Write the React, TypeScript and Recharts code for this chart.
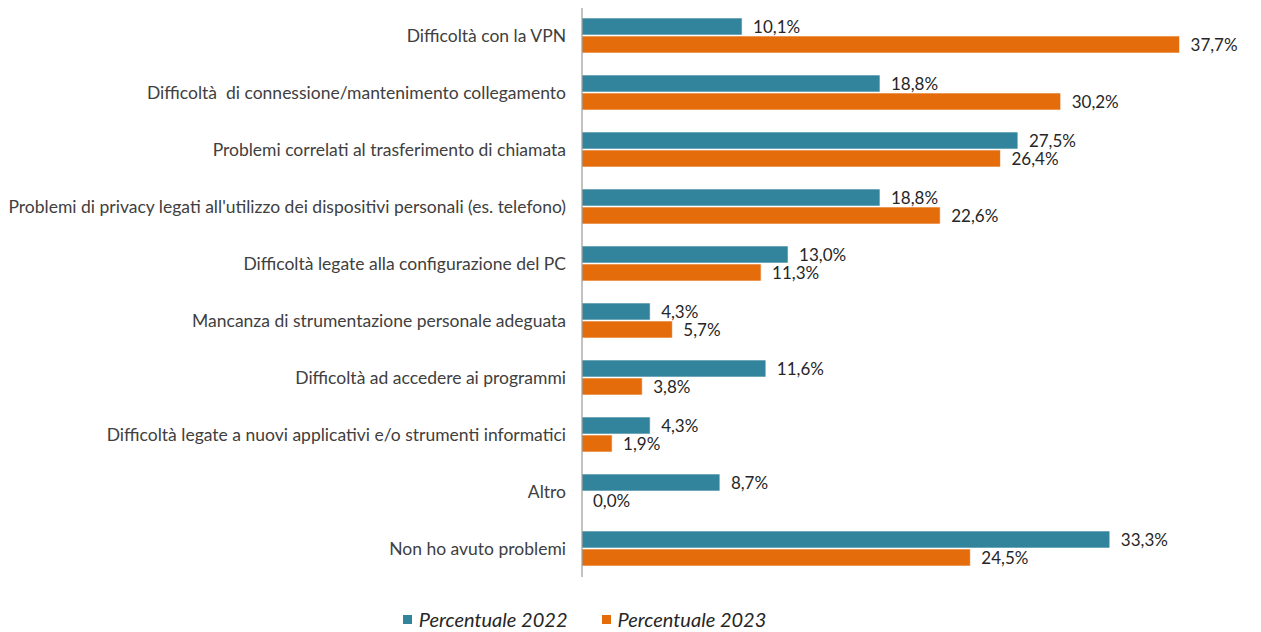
import { BarChart, Bar, XAxis, YAxis, Rectangle } from 'recharts';

const categories = [
  'Difficoltà con la VPN',
  'Difficoltà  di connessione/mantenimento collegamento',
  'Problemi correlati al trasferimento di chiamata',
  "Problemi di privacy legati all'utilizzo dei dispositivi personali (es. telefono)",
  'Difficoltà legate alla configurazione del PC',
  'Mancanza di strumentazione personale adeguata',
  'Difficoltà ad accedere ai programmi',
  'Difficoltà legate a nuovi applicativi e/o strumenti informatici',
  'Altro',
  'Non ho avuto problemi',
];

const values2022 = [10.1, 18.8, 27.5, 18.8, 13.0, 4.3, 11.6, 4.3, 8.7, 33.3];
const values2023 = [37.7, 30.2, 26.4, 22.6, 11.3, 5.7, 3.8, 1.9, 0.0, 24.5];

const seriesNames = ['Percentuale 2022', 'Percentuale 2023'];
const COLOR_2022 = '#31849B';
const COLOR_2023 = '#E46C0A';
const FONT = 'Lato, "Liberation Sans", sans-serif';

const data = categories.map((name, i) => ({
  name,
  p2022: values2022[i],
  p2023: values2023[i],
}));

const fmt = (v: any) => `${Number(v).toFixed(1).replace('.', ',')}%`;

// category label, right-aligned left of the axis line
function CategoryTick({ x, y, payload }: any) {
  return (
    <text
      x={x - 8}
      y={y}
      dy={6}
      textAnchor="end"
      fill="#404040"
      fontSize={17.5}
      fontFamily={FONT}
      style={{ whiteSpace: 'pre' }}
    >
      {payload.value}
    </text>
  );
}

// bar + value label in one shape, so a 0 value still gets its label
function BarWithLabel(props: any) {
  const { x, y, width, height, value, fill } = props;
  const v = Array.isArray(value) ? value[1] - value[0] : value;
  return (
    <g>
      {width > 0 && <Rectangle x={x} y={y} width={width} height={height} fill={fill} stroke="#fff" strokeWidth={0.6} />}
      <text
        x={Number(x) + Number(width || 0) + 11}
        y={Number(y) + Number(height) / 2}
        dy={6}
        fill="#262626"
        fontSize={17}
        fontFamily={FONT}
      >
        {fmt(v)}
      </text>
    </g>
  );
}

export default function App() {
  return (
    <div style={{ position: 'relative', width: 1261, height: 632, margin: '-8px 0 0 -8px', background: '#fff' }}>
      <BarChart
        width={1261}
        height={590}
        data={data}
        layout="vertical"
        margin={{ top: 7, right: 45, left: 0, bottom: 13 }}
        barCategoryGap="18%"
        barGap={1}
      >
        <XAxis type="number" domain={[0, 40]} hide />
        <YAxis
          type="category"
          dataKey="name"
          width={582}
          axisLine={{ stroke: '#868686' }}
          tickLine={false}
          tick={<CategoryTick />}
          interval={0}
        />
        <Bar dataKey="p2022" name={seriesNames[0]} fill={COLOR_2022} barSize={17} shape={<BarWithLabel />} isAnimationActive={false} />
        <Bar dataKey="p2023" name={seriesNames[1]} fill={COLOR_2023} barSize={17} shape={<BarWithLabel />} isAnimationActive={false} />
      </BarChart>

      {/* legend */}
      <div
        style={{
          position: 'absolute',
          top: 608,
          left: 0,
          width: 1261,
          display: 'flex',
          justifyContent: 'center',
          paddingRight: 92,
          boxSizing: 'border-box',
          gap: 34,
          fontFamily: FONT,
          fontStyle: 'italic',
          fontSize: 20,
          lineHeight: '22px',
          color: '#262626',
        }}
      >
        {seriesNames.map((s, i) => (
          <div key={s} style={{ display: 'flex', alignItems: 'center', gap: 7 }}>
            <span style={{ width: 9, height: 9, background: i === 0 ? COLOR_2022 : COLOR_2023, display: 'inline-block' }} />
            <span>{s}</span>
          </div>
        ))}
      </div>
    </div>
  );
}
